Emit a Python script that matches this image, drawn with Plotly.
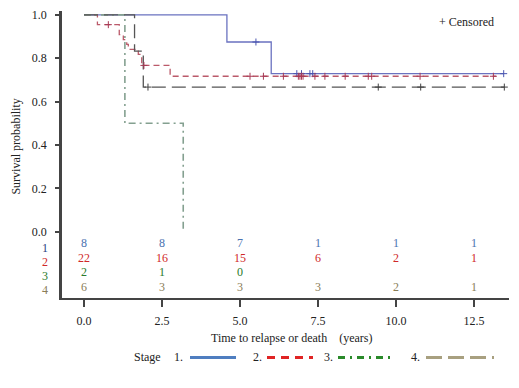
import plotly.graph_objects as go

# ---- data ----
stage_names = ["1", "2", "3", "4"]

s1_t = [0, 4.58, 6.0, 13.45]
s1_s = [1.0, 0.875, 0.729, 0.729]
s1_cens = [5.51, 6.82, 6.97, 7.24, 7.33, 13.45]

s2_t = [0, 0.43, 1.13, 1.26, 1.37, 1.42, 1.74, 1.85, 2.76, 13.2]
s2_s = [1.0, 0.955, 0.909, 0.886, 0.864, 0.841, 0.818, 0.767, 0.717, 0.717]
s2_cens = [0.78, 1.92, 5.32, 5.75, 6.39, 6.87, 6.92, 6.97, 7.02, 7.40, 7.72,
           8.37, 9.11, 9.22, 10.77, 13.12]

s3_t = [0, 1.31, 3.18]
s3_s = [1.0, 0.5, 0.0]
s3_cens = []

s4_t = [0, 1.62, 1.9, 13.47]
s4_s = [1.0, 0.833, 0.667, 0.667]
s4_cens = [2.05, 9.43, 10.79, 13.47]

risk_times = [0, 2.5, 5.0, 7.5, 10.0, 12.5]
risk_1 = [8, 8, 7, 1, 1, 1]
risk_2 = [22, 16, 15, 6, 2, 1]
risk_3 = [2, 1, 0]
risk_4 = [6, 3, 3, 3, 2, 1]

x_ticks = [0, 2.5, 5.0, 7.5, 10.0, 12.5]
x_ticktext = ["0.0", "2.5", "5.0", "7.5", "10.0", "12.5"]
y_ticks = [0, 0.2, 0.4, 0.6, 0.8, 1.0]
y_ticktext = ["0.0", "0.2", "0.4", "0.6", "0.8", "1.0"]

FONT = "Liberation Serif, Times New Roman, Times, serif"


def surv_at(ts, ss, t):
    v = ss[0]
    for ti, si in zip(ts, ss):
        if ti <= t:
            v = si
    return v


curves = [
    (s1_t, s1_s, s1_cens, "#6a72c0", "solid", 1.3, "#4a55b0"),
    (s2_t, s2_s, s2_cens, "#bb5a6a", "6px,4px", 1.3, "#a83a55"),
    (s3_t, s3_s, s3_cens, "#84a090", "7px,4px,2px,4px", 1.6, "#6a7c72"),
    (s4_t, s4_s, s4_cens, "#555555", "14px,6px", 1.3, "#404040"),
]

fig = go.Figure()
for ts, ss, cens, col, dash, w, mcol in curves:
    fig.add_trace(go.Scatter(x=ts, y=ss, mode="lines", line_shape="hv",
                             line=dict(color=col, dash=dash, width=w),
                             showlegend=False, hoverinfo="skip"))
for ts, ss, cens, col, dash, w, mcol in curves:
    if cens:
        fig.add_trace(go.Scatter(x=cens, y=[surv_at(ts, ss, c) for c in cens],
                                 mode="markers",
                                 marker=dict(symbol="cross-thin-open", size=5,
                                             color=mcol,
                                             line=dict(color=mcol, width=1)),
                                 showlegend=False, hoverinfo="skip"))

risk_rows = [risk_1, risk_2, risk_3, risk_4]
risk_y = [-0.059, -0.128, -0.192, -0.260]
label_y = [-0.075, -0.140, -0.203, -0.268]
risk_colors = ["#4a72b0", "#d02828", "#2a7a2a", "#8a7d58"]
label_colors = ["#2c3f80", "#d02828", "#2a7a2a", "#8a7d58"]
for row, yv, col in zip(risk_rows, risk_y, risk_colors):
    fig.add_trace(go.Scatter(x=risk_times[:len(row)], y=[yv] * len(row),
                             mode="text", text=[str(v) for v in row],
                             textfont=dict(family=FONT, size=12, color=col),
                             showlegend=False, hoverinfo="skip"))

# plot area spans screen x 62..509, y 8..298 (body margin removed below)
W, H = 519, 388
L, T = 62, 8
PW, PH = 447, 290


def px(x):
    return (x - L) / PW


def py(y):
    return (T + PH - y) / PH


annotations = []
for name, yv, col in zip(stage_names, label_y, label_colors):
    annotations.append(dict(text=name, x=px(45), xref="paper", y=yv, yref="y",
                            showarrow=False, xanchor="center", yanchor="middle",
                            font=dict(family=FONT, size=12, color=col)))

annotations.append(dict(text="Survival probability", x=px(16), xref="paper",
                        y=py(145), yref="paper", textangle=-90, showarrow=False,
                        xanchor="center", yanchor="middle",
                        font=dict(family=FONT, size=12, color="#222")))
annotations.append(dict(text="Time to relapse or death\u00a0\u00a0\u00a0\u00a0(years)",
                        x=px(292), xref="paper", y=py(338), yref="paper",
                        showarrow=False, xanchor="center", yanchor="middle",
                        font=dict(family=FONT, size=12, color="#222")))
annotations.append(dict(text="+ Censored", x=px(466), xref="paper",
                        y=py(19), yref="paper", showarrow=False,
                        xanchor="center", yanchor="middle",
                        font=dict(family=FONT, size=12, color="#222")))

# ---- manual legend (paper coordinates) ----
leg_y = py(358)
annotations.append(dict(text="Stage", x=px(147), xref="paper", y=leg_y, yref="paper",
                        showarrow=False, xanchor="center", yanchor="middle",
                        font=dict(family=FONT, size=12, color="#222")))
legend_items = [
    ("1.", 178, 190, 236, "#4f7ec0", "solid"),
    ("2.", 257, 267, 313, "#e02424", "8px,6px"),
    ("3.", 328, 338, 390, "#2a8a2a", "7px,5px,2px,5px"),
    ("4.", 415, 426, 494, "#a8a080", "16px,6px"),
]
shapes = []
for lab, lx, x0, x1, col, dash in legend_items:
    annotations.append(dict(text=lab, x=px(lx), xref="paper", y=leg_y, yref="paper",
                            showarrow=False, xanchor="center", yanchor="middle",
                            font=dict(family=FONT, size=12, color="#222")))
    shapes.append(dict(type="line", xref="paper", yref="paper",
                       x0=px(x0), x1=px(x1), y0=leg_y, y1=leg_y,
                       line=dict(color=col, width=3, dash=dash)))

fig.update_layout(
    width=W, height=H,
    margin=dict(l=L, r=W - L - PW, t=T, b=H - T - PH, pad=0),
    paper_bgcolor="white", plot_bgcolor="white",
    font=dict(family=FONT, size=12, color="#222"),
    annotations=annotations, shapes=shapes,
    xaxis=dict(range=[-0.705, 13.62], tickvals=x_ticks, ticktext=x_ticktext,
               ticks="outside", ticklen=7, tickwidth=2, tickcolor="#444",
               showline=True, linewidth=2, linecolor="#444",
               showgrid=False, zeroline=False, ticklabelstandoff=4,
               tickfont=dict(family=FONT, size=12, color="#222")),
    yaxis=dict(range=[-0.306, 1.018], tickvals=y_ticks, ticktext=y_ticktext,
               ticks="outside", ticklen=4, tickwidth=2, tickcolor="#444",
               showline=True, linewidth=2.5, linecolor="#444",
               showgrid=False, zeroline=False, ticklabelstandoff=6,
               ticklabeloverflow="allow",
               tickfont=dict(family=FONT, size=12, color="#222")),
)

fig.write_html("out.html", config={"displayModeBar": False},
               post_script="document.body.style.margin='0';document.body.style.overflow='hidden';")
